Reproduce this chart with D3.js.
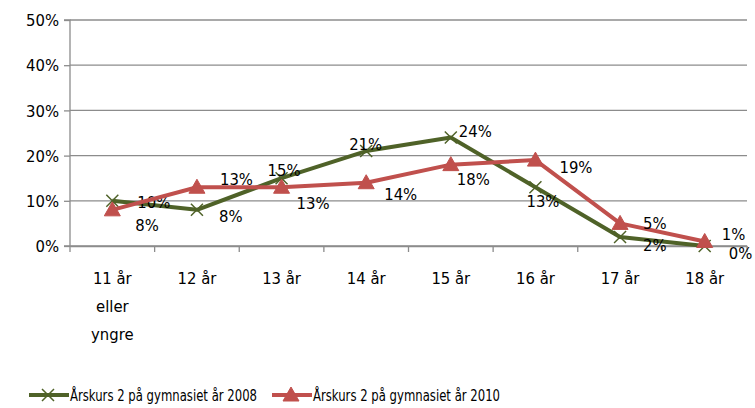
<!DOCTYPE html>
<html>
<head>
  <meta charset="utf-8">
  <script src="https://d3js.org/d3.v7.min.js"></script>
</head>
<style>
  body { margin: 0; background: #fff; }
  text { font-family: "DejaVu Sans Condensed", "DejaVu Sans", sans-serif; font-stretch: condensed; font-size: 16.5px; fill: #000; }
</style>
<body>
  <svg width="755" height="408"></svg>
  <script>
    // Data
    const categories = [['11 år', 'eller', 'yngre'], ['12 år'], ['13 år'], ['14 år'], ['15 år'], ['16 år'], ['17 år'], ['18 år']];
    const yTicks = [0, 10, 20, 30, 40, 50];
    const series2008 = [10, 8, 15, 21, 24, 13, 2, 0];
    const series2010 = [8, 13, 13, 14, 18, 19, 5, 1];
    const seriesNames = ['Årskurs 2 på gymnasiet år 2008', 'Årskurs 2 på gymnasiet år 2010'];

    // label offsets (layout only)
    const off2008 = [[25, 1], [22, 6], [-14, -8], [-17, -7], [8, -6], [-9, 14], [23, 8], [24, 7]];
    const off2010 = [[23, 15], [23, -8], [15, 16], [18, 12], [6, 15], [24, 7], [23, 0], [17, -7]];

    const margin = {top: 20, right: 8, bottom: 162, left: 70};
    const width = 755 - margin.left - margin.right;
    const height = 408 - margin.top - margin.bottom;

    const svg = d3.select('svg')
      .append('g')
      .attr('transform', `translate(${margin.left},${margin.top})`);

    const x = d3.scaleBand()
      .domain(d3.range(categories.length))
      .range([0, width]);

    const y = d3.scaleLinear()
      .domain([0, 50])
      .range([height, 0]);

    // grid lines
    svg.selectAll('.grid')
      .data(yTicks)
      .enter()
      .append('line')
      .attr('x1', 0)
      .attr('x2', width)
      .attr('y1', d => y(d))
      .attr('y2', d => y(d))
      .attr('stroke', '#8c8c8c')
      .attr('stroke-width', 1.3);

    // y axis
    const yAxis = svg.append('g')
      .call(d3.axisLeft(y).tickValues(yTicks).tickFormat(d => d + '%').tickSize(6).tickPadding(5));
    yAxis.select('.domain').attr('stroke', '#8c8c8c').attr('stroke-width', 1.3).attr('d', `M-6,0H0V${height}H-6`);
    yAxis.selectAll('.tick line').attr('stroke', '#8c8c8c').attr('stroke-width', 1.3);
    yAxis.selectAll('text').attr('font-size', null).attr('font-family', null).attr('dy', '0.35em');

    // x axis
    const xAxis = svg.append('g')
      .attr('transform', `translate(0,${height})`)
      .call(d3.axisBottom(x).tickSize(0).tickFormat(''));
    xAxis.select('.domain').attr('stroke', '#8c8c8c').attr('stroke-width', 1.3);
    xAxis.selectAll('.tick').remove();

    xAxis.selectAll('.xtick')
      .data(d3.range(categories.length + 1))
      .enter()
      .append('line')
      .attr('x1', d => d * x.step())
      .attr('x2', d => d * x.step())
      .attr('y1', 0)
      .attr('y2', 6)
      .attr('stroke', '#8c8c8c')
      .attr('stroke-width', 1.3);

    const cats = xAxis.selectAll('.cat')
      .data(categories)
      .enter()
      .append('text')
      .attr('text-anchor', 'middle')
      .attr('transform', (d, i) => `translate(${x(i) + x.bandwidth() / 2},38)`);
    cats.selectAll('tspan')
      .data(d => d)
      .enter()
      .append('tspan')
      .attr('x', 0)
      .attr('y', (d, i) => i * 28)
      .text(d => d);

    const cx = i => x(i) + x.bandwidth() / 2;
    const line = d3.line().x((d, i) => cx(i)).y(d => y(d));

    const green = '#4f6228';
    const red = '#c0504d';

    function drawSeries(values, color, marker, offs) {
      svg.append('path')
        .datum(values)
        .attr('d', line)
        .attr('fill', 'none')
        .attr('stroke', color)
        .attr('stroke-width', 4)
        .attr('stroke-linejoin', 'round');
      const g = svg.selectAll(null)
        .data(values)
        .enter()
        .append('g')
        .attr('transform', (d, i) => `translate(${cx(i)},${y(d)})`);
      marker(g);
      svg.selectAll(null)
        .data(values)
        .enter()
        .append('text')
        .attr('x', (d, i) => cx(i) + offs[i][0])
        .attr('y', (d, i) => y(d) + offs[i][1])
        .attr('dy', '0.35em')
        .text(d => d + '%');
    }

    function crossMarker(g) {
      g.append('path')
        .attr('d', 'M-6,-6L6,6M-6,6L6,-6')
        .attr('stroke', green)
        .attr('stroke-width', 1.5)
        .attr('fill', 'none');
    }
    function triMarker(g) {
      g.append('path')
        .attr('d', 'M0,-8L8,6L-8,6Z')
        .attr('fill', red)
        .attr('stroke', red);
    }

    drawSeries(series2008, green, crossMarker, off2008);
    drawSeries(series2010, red, triMarker, off2010);

    // Legend
    const legend = d3.select('svg').append('g').attr('transform', 'translate(0,395)');
    const items = [
      {name: seriesNames[0], color: green, marker: crossMarker, x: 29},
      {name: seriesNames[1], color: red, marker: triMarker, x: 272}
    ];
    items.forEach(it => {
      const lg = legend.append('g').attr('transform', `translate(${it.x},0)`);
      lg.append('line').attr('x1', 0).attr('x2', 40).attr('stroke', it.color).attr('stroke-width', 4);
      it.marker(lg.append('g').attr('transform', 'translate(19,0)'));
      lg.append('text').attr('x', 41).attr('dy', '0.35em')
        .attr('textLength', 187).attr('lengthAdjust', 'spacingAndGlyphs')
        .text(it.name);
    });
  </script>
</body>
</html>
